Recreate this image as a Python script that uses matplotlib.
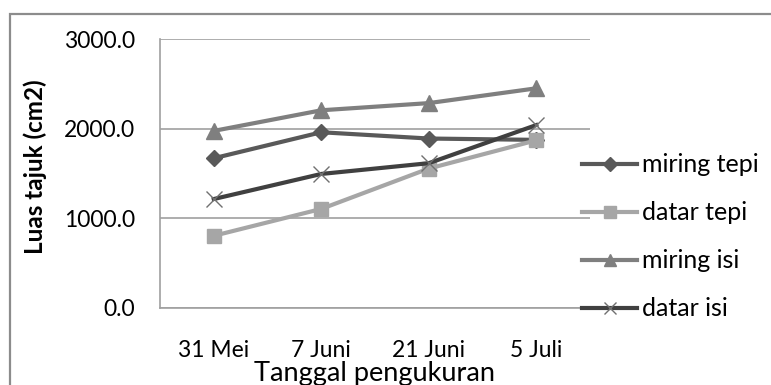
import matplotlib
matplotlib.use("Agg")
import matplotlib.pyplot as plt
from matplotlib.patches import Rectangle

# data luas tajuk per tanggal pengukuran
tanggal = ["31 Mei", "7 Juni", "21 Juni", "5 Juli"]
miring_tepi = [1670, 1960, 1890, 1875]
datar_tepi = [805, 1105, 1555, 1870]
miring_isi = [1975, 2205, 2285, 2450]
datar_isi = [1215, 1495, 1615, 2040]

plt.rcParams['font.family'] = ['Lato', 'DejaVu Sans']

W, H = 771, 385
fig = plt.figure(figsize=(W / 100, H / 100), dpi=100)
ax = fig.add_axes([160 / W, 1 - 308 / H, 430 / W, 269 / H])

# bingkai luar
fig.add_artist(Rectangle((10 / W, -0.1), 1.2, 1 - 14 / H + 0.1,
                         transform=fig.transFigure, fill=False,
                         edgecolor='#8c8c8c', lw=1.6))

x = list(range(len(tanggal)))
ax.plot(x, miring_tepi, color='#595959', lw=3, marker='D', ms=8, label='miring tepi')
ax.plot(x, datar_tepi, color='#a6a6a6', lw=3, marker='s', ms=10, label='datar tepi')
ax.plot(x, miring_isi, color='#7f7f7f', lw=3, marker='^', ms=11, label='miring isi')
ax.plot(x, datar_isi, color='#404040', lw=3, marker='x', ms=11, mew=1,
        mec='#707070', label='datar isi')

ax.set_xlim(-0.5, 3.5)
ax.set_ylim(0, 3000)
ax.set_yticks([0, 1000, 2000, 3000])
ax.set_yticklabels(["0.0", "1000.0", "2000.0", "3000.0"], fontsize=16.5)
ax.set_xticks(x)
ax.set_xticklabels(tanggal, fontsize=16.5)
ax.tick_params(axis='x', length=0, pad=23)
ax.tick_params(axis='y', length=0, pad=18)
ax.grid(axis='y', color='#a0a0a0', lw=1.2)
ax.set_axisbelow(True)
for s in ['top', 'right']:
    ax.spines[s].set_visible(False)
for s in ['left', 'bottom']:
    ax.spines[s].set_color('#a0a0a0')
    ax.spines[s].set_linewidth(1.2)

ax.set_ylabel("Luas tajuk (cm2)", fontsize=17.5, fontweight='bold')
ax.yaxis.set_label_coords(-0.263, (308 - 167) / 269)
ax.set_xlabel("Tanggal pengukuran", fontsize=19.5, labelpad=0)

ax.legend(loc='center left', bbox_to_anchor=(572 / W, 1 - 237 / H),
          bbox_transform=fig.transFigure, borderaxespad=0, frameon=False,
          fontsize=18, handlelength=2.2, handletextpad=0.2, labelspacing=1.0,
          markerscale=0.85)

fig.savefig("out.png", dpi=100)
